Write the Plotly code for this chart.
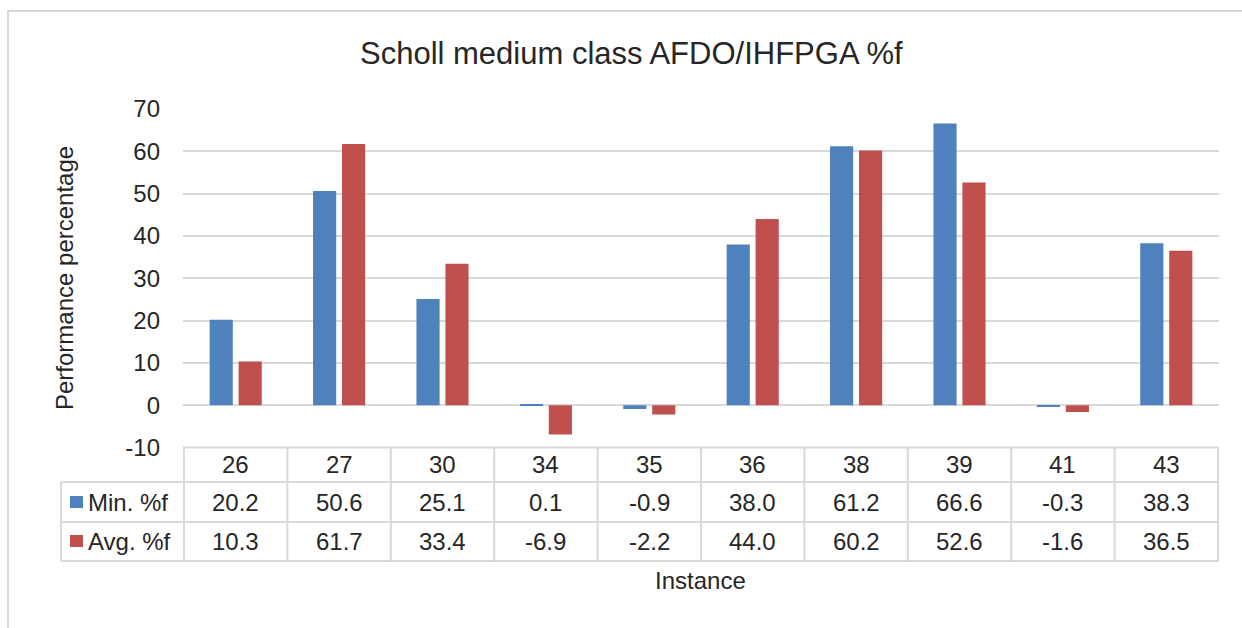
import plotly.graph_objects as go

# Instance labels and the two performance series (%f)
instances = ["26", "27", "30", "34", "35", "36", "38", "39", "41", "43"]
min_pf = [20.2, 50.6, 25.1, 0.1, -0.9, 38.0, 61.2, 66.6, -0.3, 38.3]
avg_pf = [10.3, 61.7, 33.4, -6.9, -2.2, 44.0, 60.2, 52.6, -1.6, 36.5]
series_names = ["Min. %f", "Avg. %f"]
y_ticks = [-10, 0, 10, 20, 30, 40, 50, 60, 70]
y_tick_text = ["-10", "0", "10", "20", "30", "40", "50", "60", "70"]

W, H = 1242, 628
BLUE = "#4F81BD"
RED = "#C0504D"
GRID = "#D9D9D9"
TXT = "#262626"
FONT = "Liberation Sans, Arial, sans-serif"
FS = 24


def px(x):
    return x / W


def py(y):
    return 1 - y / H


plot_left, plot_right = 183, 1219
plot_top, plot_bottom = 109, 447.5

fig = go.Figure()
fig.add_trace(go.Bar(x=instances, y=min_pf, name=series_names[0],
                     marker=dict(color=BLUE, line=dict(width=0))))
fig.add_trace(go.Bar(x=instances, y=avg_pf, name=series_names[1],
                     marker=dict(color=RED, line=dict(width=0))))

# Data table under the plot area
row_tops = [447.5, 482, 522, 561]
shapes = []
# outer frame of the chart
shapes.append(dict(type="rect", xref="paper", yref="paper",
                   x0=px(8), x1=1.02, y0=-0.02, y1=py(11),
                   line=dict(color=GRID, width=2), layer="below"))
# header row top line (data columns only)
shapes.append(dict(type="line", xref="paper", yref="paper",
                   x0=px(plot_left), x1=px(plot_right),
                   y0=py(row_tops[0]), y1=py(row_tops[0]),
                   line=dict(color=GRID, width=2)))
# series rows lines (including label column)
for yy in row_tops[1:]:
    shapes.append(dict(type="line", xref="paper", yref="paper",
                       x0=px(61), x1=px(plot_right),
                       y0=py(yy), y1=py(yy),
                       line=dict(color=GRID, width=2)))
# left border of label column
shapes.append(dict(type="line", xref="paper", yref="paper",
                   x0=px(61), x1=px(61),
                   y0=py(row_tops[1]), y1=py(row_tops[3]),
                   line=dict(color=GRID, width=2)))
# column separators on category boundaries
for i in range(len(instances) + 1):
    shapes.append(dict(type="line", xref="x", yref="paper",
                       x0=i - 0.5, x1=i - 0.5,
                       y0=py(row_tops[0]), y1=py(row_tops[3]),
                       line=dict(color=GRID, width=2)))
# legend swatches in the label column
swatch_centres = [502, 541]
for col, yc in zip([BLUE, RED], swatch_centres):
    shapes.append(dict(type="rect", xref="paper", yref="paper",
                       x0=px(70), x1=px(83), y0=py(yc + 6), y1=py(yc - 6),
                       fillcolor=col, line=dict(width=0)))

annotations = []
cell_font = dict(family=FONT, size=FS, color=TXT)


def label(x, y, text, xref="paper", xanchor="center", font=cell_font, **kw):
    annotations.append(dict(x=x, y=py(y), xref=xref, yref="paper",
                            text=text, showarrow=False,
                            xanchor=xanchor, yanchor="middle",
                            font=font, **kw))


header_y = (row_tops[0] + row_tops[1]) / 2
for i, name in enumerate(instances):
    label(i, header_y, name, xref="x")
for k, vals in enumerate([min_pf, avg_pf]):
    yc = (row_tops[k + 1] + row_tops[k + 2]) / 2
    label(px(86), yc, series_names[k], xanchor="left")
    for i, v in enumerate(vals):
        label(i, yc, f"{v:.1f}", xref="x")

# axis titles and chart title
label(px((plot_left + plot_right) / 2), 580, "Instance")
label(px(64), 278, "Performance percentage", textangle=-90)
label(px(631), 54, "Scholl medium class AFDO/IHFPGA %f",
      font=dict(family=FONT, size=31, color=TXT))

fig.update_layout(
    width=W, height=H,
    margin=dict(l=0, r=0, t=0, b=0, autoexpand=False),
    paper_bgcolor="white", plot_bgcolor="white",
    showlegend=False,
    barmode="group", bargap=0.44, bargroupgap=0.2,
    font=dict(family=FONT, size=FS, color=TXT),
    shapes=shapes, annotations=annotations,
    xaxis=dict(domain=[px(plot_left), px(plot_right)],
               showticklabels=False, showgrid=False, zeroline=False,
               showline=False, ticks="", automargin=False),
    yaxis=dict(domain=[py(plot_bottom), py(plot_top)],
               range=[-10, 70], tickvals=y_ticks, ticktext=y_tick_text,
               showgrid=True, gridcolor=GRID, gridwidth=2,
               zeroline=True, zerolinecolor=GRID, zerolinewidth=2,
               showline=False, ticks="", ticklabelstandoff=22,
               automargin=False,
               tickfont=dict(family=FONT, size=FS, color=TXT)),
)

fig.write_html("out.html")
